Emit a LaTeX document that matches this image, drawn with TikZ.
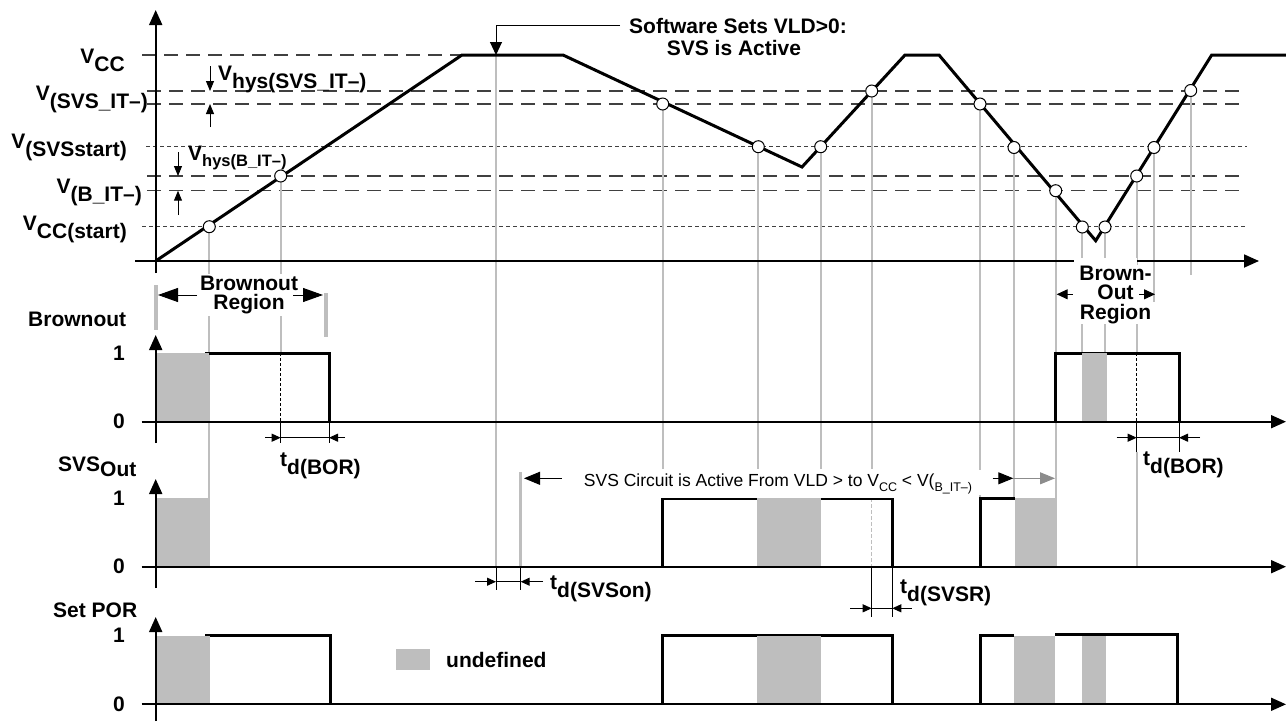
\documentclass[tikz,border=0pt]{standalone}
\usepackage{fontspec}
\setmainfont{Liberation Sans}
\usetikzlibrary{arrows.meta}
\definecolor{ug}{HTML}{BEBEBE}
\newcommand\lo[1]{\raisebox{-0.4em}{#1}}
\newcommand\smlo[1]{\raisebox{-0.3em}{\fontsize{12.5}{12.5}\selectfont #1}}
\begin{document}
\begin{tikzpicture}[x=1pt,y=-1pt,
  ax/.style={line width=1.8pt,-{Triangle[length=15pt,width=13pt]}},
  wave/.style={line width=3pt,line join=miter},
  gl/.style={draw=ug,line width=2pt},
  lvl/.style={line width=1.2pt,black!75,dash pattern=on 14pt off 8pt},
  dotl/.style={line width=1pt,black!75,dash pattern=on 4pt off 3pt},
  lab/.style={font=\fontsize{21}{17}\selectfont\bfseries,inner sep=0pt},
  reg/.style={font=\fontsize{17.5}{20}\selectfont,inner sep=0pt},
  tk/.style={line width=1pt},
  tdarr/.style={line width=1pt,-{Triangle[length=9pt,width=8pt]}},
  hysarr/.style={line width=1pt,-{Triangle[length=10pt,width=8pt]}},
  und/.style={fill=ug},
  circ/.style={circle,draw,fill=white,line width=1pt,minimum size=12pt,inner sep=0pt},
]
\useasboundingbox (0,0) rectangle (1286,721);

% level lines
\draw[lvl] (142,55) -- (462,55);
\draw[lvl] (147,91) -- (1240,91);
\draw[lvl] (147,104) -- (1240,104);
\draw[dotl] (146,146.5) -- (1247,146.5);
\draw[lvl] (147,176) -- (1240,176);
\draw[lvl] (147,190.7) -- (1240,190.7);
\draw[dotl] (142,226.7) -- (1247,226.7);

% crossing points
\coordinate (c1) at (209.3,226.7);
\coordinate (c2) at (280.7,176);
\coordinate (c3) at (662.7,104);
\coordinate (c4) at (758.3,146.7);
\coordinate (c5) at (820.7,146.7);
\coordinate (c6) at (871.7,91);
\coordinate (c7) at (980,104);
\coordinate (c8) at (1014,147.5);
\coordinate (c9) at (1055.7,190.7);
\coordinate (c10) at (1082.3,227);
\coordinate (c11) at (1105,227);
\coordinate (c12) at (1136.7,176);
\coordinate (c13) at (1154,147.5);
\coordinate (c14) at (1190.7,90.5);
\coordinate (vld) at (496,55);

% gray projection lines
\draw[gl] (c1) -- (c1 |- 0,498.3);
\draw[gl] (c2) -- (c2 |- 0,353.3);
\draw[gl] (vld) -- (vld |- 0,566.7);
\draw[gl] (c3) -- (c3 |- 0,498.3);
\draw[gl] (c4) -- (c4 |- 0,498.3);
\draw[gl] (c5) -- (c5 |- 0,498.3);
\draw[gl] (c6) -- (c6 |- 0,498.3);
\draw[gl] (c7) -- (c7 |- 0,498.3);
\draw[gl] (c8) -- (c8 |- 0,498.3);
\draw[gl] (c9) -- (c9 |- 0,566.7);
\draw[gl] (c10) -- (c10 |- 0,353.3);
\draw[gl] (c11) -- (c11 |- 0,353.3);
\draw[gl] (c12) -- (c12 |- 0,353.3);
\draw[gl] (1136.7,452) -- (1136.7,566.7);
\draw[gl] (c13) -- (c13 |- 0,302);
\draw[gl] (c14) -- (c14 |- 0,275);
\draw[draw=ug,line width=3pt] (520.7,472) -- (520.7,566.7);
\draw[draw=ug,line width=1.5pt,dash pattern=on 4pt off 2pt] (871.7,498.3) -- (871.7,566.7);

% waveforms
\draw[wave] (205,353.3) -- (329,353.3) -- (329,421.7);
\draw[wave] (1055,421.7) -- (1055,353.3) -- (1179,353.3) -- (1179,421.7);
\draw[wave] (662.7,566.7) -- (662.7,498.3) -- (892.3,498.3) -- (892.3,566.7);
\draw[wave] (980,566.7) -- (980,498.3) -- (1015,498.3);
\draw[wave] (205,635.5) -- (330,635.5) -- (330,704.3);
\draw[wave] (662,704.3) -- (662,635.5) -- (892.2,635.5) -- (892.2,704.3);
\draw[wave] (980,704.3) -- (980,635.5) -- (1014,635.5);

% undefined boxes
\fill[und] (155.7,353.3) rectangle (209.3,421.7);
\fill[und] (1082.3,353.3) rectangle (1107.3,421.7);
\fill[und] (155.7,498.3) rectangle (210,566.7);
\fill[und] (757.3,498.3) rectangle (821,566.7);
\fill[und] (1015,498.3) rectangle (1055.7,566.7);
\fill[und] (155.7,635.5) rectangle (210,704.3);
\fill[und] (757.4,635.5) rectangle (820.5,704.3);
\fill[und] (1014,635.5) rectangle (1055.3,704.3);
\fill[und] (1082,636) rectangle (1105.6,704.3);
\draw[wave] (1055.3,634.5) -- (1177.7,634.5) -- (1177.7,704.3);

% dashed verticals in Brownout
\draw[line width=1pt,dash pattern=on 3pt off 2pt] (280.7,353.3) -- (280.7,421.7);
\draw[line width=1pt,dash pattern=on 3pt off 2pt] (1136.7,353.3) -- (1136.7,421.7);

% axes
\draw[ax] (155.7,273) -- (155.7,10);
\draw[ax] (135,261) -- (1259,261);
\draw[ax] (155.7,443) -- (155.7,335);
\draw[ax] (141.7,421.7) -- (1286,421.7);
\draw[ax] (155.7,588) -- (155.7,479);
\draw[ax] (141.7,566.7) -- (1286,566.7);
\draw[ax] (155.7,721) -- (155.7,617);
\draw[ax] (141.7,704.3) -- (1286,704.3);

% supply voltage curve
\draw[wave] (155.7,261) -- (462,55) -- (563,55) -- (802,167) -- (905,55) -- (939,55)
  -- (1095.7,240.7) -- (1211.7,55) -- (1286,55);
\foreach \c in {1,...,14} { \node[circ] (n\c) at (c\c) {}; }

% level labels
\node[lab,anchor=base east] (lvcc) at (125,63) {V\lo{CC}};
\node[lab,anchor=base east] (lsvs) at (148,100) {V\lo{(SVS\_IT--)}};
\node[lab,anchor=base east] (lsst) at (127,148) {V\lo{(SVSstart)}};
\node[lab,anchor=base east] (lbit) at (142,193) {V\lo{(B\_IT--)}};
\node[lab,anchor=base east] (lvst) at (127,230) {V\lo{CC(start)}};
\node[lab,anchor=base west] (hys1) at (218,80) {V\lo{hys(SVS\_IT--)}};
\node[lab,anchor=base west] (hys2) at (188,160) {V\raisebox{-0.3em}{\fontsize{16.5}{16.5}\selectfont hys(B\_IT--)}};
\draw[hysarr] (210,66) -- (210,91);
\draw[hysarr] (210,127) -- (210,104);
\draw[hysarr] (178,152) -- (178,176);
\draw[hysarr] (178,215) -- (178,190.7);

% software callout
\node[lab,anchor=base] (sw1) at (738,33) {Software Sets VLD>0:};
\node[lab,anchor=base] (sw2) at (734,55) {SVS is Active};
\draw[line width=1pt,-{Triangle[length=13pt,width=12pt]}] (620,25) -- (496,25) -- (vld);

% signal labels
\node[lab,anchor=base west] (sbo) at (28,326) {Brownout};
\node[lab,anchor=base west] (ssvs) at (58,471.7) {SVS\raisebox{-0.25em}{Out}};
\node[lab,anchor=base west] (spor) at (53,617) {Set POR};
\node[lab] (b1) at (119,353.3) {1};
\node[lab] (b0) at (119,421.7) {0};
\node[lab] (s1) at (119,498.3) {1};
\node[lab] (s0) at (119,566.7) {0};
\node[lab] (p1) at (119,635.5) {1};
\node[lab] (p0) at (119,704.3) {0};

% left brownout region
\draw[draw=ug,line width=4pt] (155.7,285) -- (155.7,330);
\draw[draw=ug,line width=4pt] (326,293) -- (326,337);
\node[lab,align=center,fill=white,inner sep=2pt,font=\fontsize{21}{19.5}\selectfont\bfseries] (brl) at (249,295) {Brownout\\Region};
\draw[line width=1pt,-{Triangle[length=20pt,width=14pt]}] (197,295) -- (158,295);
\draw[line width=1pt,-{Triangle[length=20pt,width=14pt]}] (293,295) -- (323,295);

% right brown-out region
\fill[white] (1074,258) rectangle (1137,264.5);
\node[lab,align=center,fill=white,inner sep=1pt,font=\fontsize{21}{19.5}\selectfont\bfseries] (brr) at (1115.5,294.5) {Brown-\\Out\\Region};
\draw[line width=1pt,-{Triangle[length=11pt,width=10pt]}] (1072.7,294.3) -- (1056.7,294.3);
\draw[line width=1pt,-{Triangle[length=11pt,width=10pt]}] (1139,294.3) -- (1155,294.3);

% td(BOR) left
\draw[tk] (280.7,421.7) -- (280.7,443);
\draw[tk] (329,421.7) -- (329,443);
\draw[tk] (280.7,437.7) -- (329,437.7);
\draw[tdarr] (265,437.7) -- (280.7,437.7);
\draw[tdarr] (345,437.7) -- (329,437.7);
\node[lab,anchor=base west] (tbor1) at (280,466) {t\lo{d(BOR)}};

% td(BOR) right
\draw[tk] (1136.7,421.7) -- (1136.7,452);
\draw[tk] (1179,421.7) -- (1179,452);
\draw[tk] (1136.7,437.7) -- (1179,437.7);
\draw[tdarr] (1116.7,437.7) -- (1136.7,437.7);
\draw[tdarr] (1200,437.7) -- (1179,437.7);
\node[lab,anchor=base west] (tbor2) at (1143,465) {t\lo{d(BOR)}};

% td(SVSon)
\draw[tk] (496,566.7) -- (496,590);
\draw[tk] (520.7,566.7) -- (520.7,590);
\draw[tk] (496,581.7) -- (520.7,581.7);
\draw[tdarr] (475,581.7) -- (496,581.7);
\draw[tdarr] (543,581.7) -- (520.7,581.7);
\node[lab,anchor=base west] (tsvson) at (550,589) {t\lo{d(SVSon)}};

% td(SVSR)
\draw[tk] (871.7,566.7) -- (871.7,617);
\draw[tk] (892.3,566.7) -- (892.3,617);
\draw[tk] (871.7,608.3) -- (892.3,608.3);
\draw[tdarr] (850,608.3) -- (871.7,608.3);
\draw[tdarr] (911.7,608.3) -- (892.3,608.3);
\node[lab,anchor=base west] (tsvsr) at (900,593) {t\lo{d(SVSR)}};

% SVS active annotation
\node[reg,anchor=base west,fill=white,inner ysep=4pt,inner xsep=2pt] (act) at (581.7,486)
  {SVS Circuit is Active From VLD > to V\smlo{CC} < V(\smlo{B\_IT--)}};
\draw[line width=1pt,-{Triangle[length=16pt,width=13pt]}] (561.7,478.3) -- (524,478.3);
\fill[white] (973,470) rectangle (1012,495);
\draw[line width=1pt,-{Triangle[length=15pt,width=12pt]}] (992.7,478.3) -- (1013.3,478.3);
\draw[black!45,line width=1pt,-{Triangle[length=15pt,width=12pt]}] (1013.3,478.3) -- (1055,478.3);

% legend
\fill[und] (396,649) rectangle (430,670);
\node[lab,anchor=west] (leg) at (446,660) {undefined};
\end{tikzpicture}
\end{document}
